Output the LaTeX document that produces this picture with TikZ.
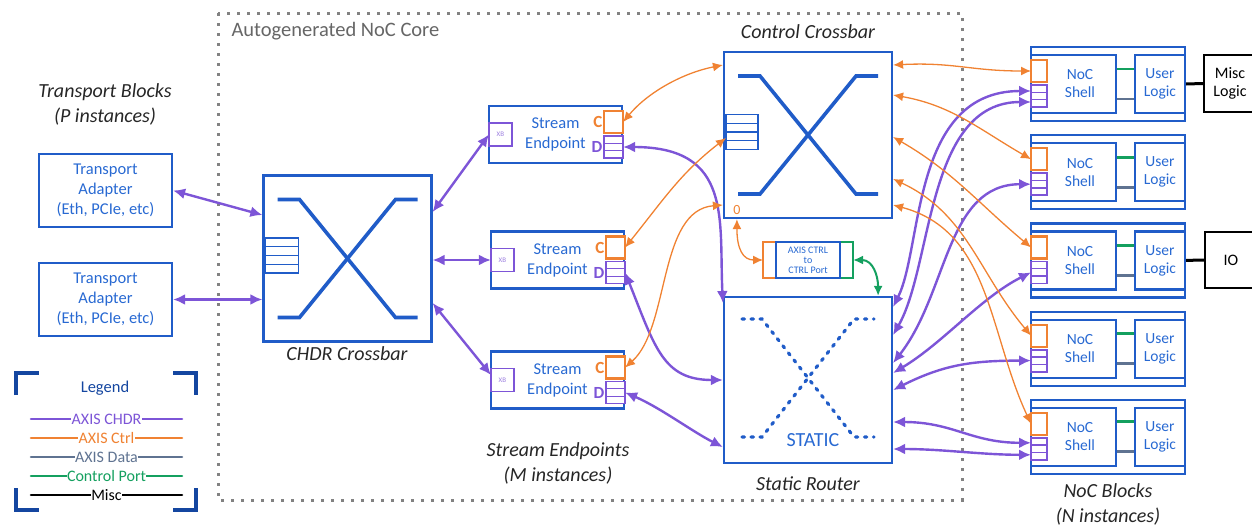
\documentclass[tikz,border=0pt]{standalone}
\usepackage{fontspec}
\setmainfont{Carlito}
\usepackage{tikz}
\usetikzlibrary{arrows.meta,calc,positioning}

\definecolor{boxblue}{RGB}{32,92,200}
\definecolor{textblue}{RGB}{40,105,210}
\definecolor{chdrc}{RGB}{125,85,215}
\definecolor{ctrlc}{RGB}{240,130,50}
\definecolor{portc}{RGB}{20,160,95}
\definecolor{datac}{RGB}{95,115,145}
\definecolor{legc}{RGB}{20,70,160}
\definecolor{coregray}{RGB}{130,130,130}

\tikzset{
  blk/.style={draw=boxblue, line width=2.2pt, text=textblue, align=center, inner sep=0pt,
    font=\fontsize{16.5}{20}\selectfont},
  xbox/.style={draw=boxblue, line width=2.2pt, minimum width=168pt, minimum height=166pt, inner sep=0pt},
  xline/.style={draw=boxblue, line width=3.6pt},
  xdots/.style={draw=boxblue, line width=3.2pt, line cap=round, dash pattern=on 2.5pt off 6.5pt},
  rows/.style 2 args={path picture={\foreach \f in {#1}
      \draw[#2, line width=1.3pt] ($(path picture bounding box.north west)!\f!(path picture bounding box.south west)$)
        -- ($(path picture bounding box.north east)!\f!(path picture bounding box.south east)$);}},
  fifo/.style={draw=boxblue, line width=1.5pt, fill=white, minimum width=33pt, minimum height=35pt,
    inner sep=0pt, outer sep=0pt, rows={{0.25,0.5,0.75}{boxblue}}},
  cport/.style={draw=ctrlc, line width=2.2pt, fill=white, minimum width=19pt, minimum height=22pt,
    inner sep=0pt, outer sep=0pt},
  dport/.style={draw=chdrc, line width=1.8pt, fill=white, minimum width=19pt, minimum height=22pt,
    inner sep=0pt, outer sep=0pt, rows={{0.333,0.667}{chdrc}}},
  xbport/.style={draw=chdrc, line width=1.7pt, fill=white, minimum size=23pt, inner sep=0pt,
    outer sep=0pt, text=chdrc!75, font=\fontsize{7}{7}\selectfont},
  portletter/.style={inner sep=1.5pt, font=\fontsize{17}{17}\selectfont\bfseries},
  nocbox/.style={draw=boxblue, line width=2.2pt, minimum width=154pt, minimum height=74pt, inner sep=0pt},
  innerbox/.style={draw=boxblue, line width=2.2pt, minimum height=58pt, inner sep=0pt, text=textblue,
    align=center, font=\fontsize{15.5}{18}\selectfont},
  shelltext/.style={text=textblue, align=center, font=\fontsize{15.5}{18}\selectfont},
  miscbox/.style={draw=black, line width=2.2pt, minimum width=52pt, minimum height=57pt, inner sep=0pt,
    align=center, font=\fontsize{16}{18}\selectfont},
  convside/.style={line width=2.2pt, minimum width=13pt, minimum height=36pt, inner sep=0pt, outer sep=0pt},
  convbox/.style={draw=boxblue, line width=2.2pt, minimum width=64pt, minimum height=36pt, inner sep=0pt,
    outer sep=0pt, text=textblue, align=center, font=\fontsize{10}{10}\selectfont},
  title/.style={align=center, text=black!85, font=\fontsize{20}{25}\selectfont\itshape},
  chdrarrow/.style={draw=chdrc, line width=2.4pt, {Latex[length=12pt,width=11pt]}-{Latex[length=12pt,width=11pt]}},
  ctrlarrow/.style={draw=ctrlc, line width=1.3pt, {Latex[length=10pt,width=9pt]}-{Latex[length=10pt,width=9pt]}},
  portarrow/.style={draw=portc, line width=2pt, {Latex[length=10pt,width=9pt]}-{Latex[length=10pt,width=9pt]}},
  miscline/.style={draw=black, line width=3pt},
  legcorner/.style={draw=legc, line width=3.2pt},
}

\begin{document}
\begin{tikzpicture}[x=1pt,y=1pt]
    \useasboundingbox (0,0) rectangle (1252,-525);

    \draw[coregray, line width=3pt, dash pattern=on 3pt off 7pt] (218,-13) rectangle (962,-500);
    \node[anchor=west, text=black!60, font=\fontsize{20.5}{22}\selectfont] (coretitle) at (228,-31) {Autogenerated NoC Core};

    % transport blocks
    \node[title] (tptitle) at (105,-104.5) {Transport Blocks\\(P instances)};
    \node[blk, minimum width=133pt, minimum height=73pt] (ta1) at (105.5,-190.5) {Transport\\Adapter\\(Eth, PCIe, etc)};
    \node[blk, minimum width=133pt, minimum height=73pt] (ta2) at (105.5,-299.5) {Transport\\Adapter\\(Eth, PCIe, etc)};

    % crossbars and router
    \node[xbox] (chdr) at (347.5,-258.5) {};
    \node[xbox] (ctrlxb) at (808,-135) {};
    \node[xbox] (static) at (808,-380) {};
    \foreach \n in {chdr,ctrlxb} {
        \draw[xline] ([shift={(-70,59)}]\n.center) -- ++(22,0) -- ++(96,-118) -- ++(22,0);
        \draw[xline] ([shift={(-70,-59)}]\n.center) -- ++(22,0) -- ++(96,118) -- ++(22,0);
    }
    \draw[xdots] ([shift={(-66,61)}]static.center) -- ++(20,0) -- ++(92,-118) -- ++(20,0);
    \draw[xdots] ([shift={(-66,-57)}]static.center) -- ++(20,0) -- ++(92,118) -- ++(20,0);
    \node[fifo, anchor=west] (chdrq) at ($(chdr.west)+(3,3)$) {};
    \node[fifo, anchor=west, minimum width=32pt] (ctrlq) at ($(ctrlxb.west)+(3,3)$) {};
    \node[text=ctrlc, font=\fontsize{14}{14}\selectfont] (zero) at ($(ctrlxb.south west)+(14,9)$) {0};
    \node[text=textblue, font=\fontsize{20}{20}\selectfont] (statictx) at ($(static.center)+(5,-60)$) {STATIC};

    \node[title] (chdrtitle) at (347,-354) {CHDR Crossbar};
    \node[title] (ctrltitle) at (808,-32) {Control Crossbar};
    \node[title] (statictitle) at (808,-484) {Static Router};

    % stream endpoints
    \foreach \i/\x/\y in {1/555.5/134.5, 2/557.5/260, 3/557.5/380} {
        \node[blk, minimum width=133pt, minimum height=57pt] (se\i) at (\x,-\y) {Stream\\Endpoint};
        \node[xbport, anchor=west] (xb\i) at ($(se\i.west)+(1,0)$) {XB};
        \node[cport, anchor=east] (sec\i) at ($(se\i.east)+(0,12.5)$) {};
        \node[dport, anchor=east] (sed\i) at ($(se\i.east)+(0,-12.5)$) {};
        \node[portletter, text=ctrlc, anchor=east] (secl\i) at (sec\i.west) {C};
        \node[portletter, text=chdrc, anchor=east] (sedl\i) at (sed\i.west) {D};
    }
    \node[title] (setitle) at (558,-463.5) {Stream Endpoints\\(M instances)};

    % ctrl to ctrl port
    \node[convside, draw=ctrlc] (convin) at (769.5,-260) {};
    \node[convside, draw=portc] (convout) at (846.5,-260) {};
    \node[convbox, right=0pt of convin] (conv) {AXIS CTRL\\to\\CTRL Port};

    % noc blocks
    \foreach \i in {1,...,5} {
        \pgfmathsetmacro\yc{-84-88.2*(\i-1)}
        \node[nocbox] (noc\i) at (1108,\yc) {};
        \node[innerbox, minimum width=85pt] (shell\i) at (1073.5,\yc) {};
        \node[innerbox, minimum width=50pt] (user\i) at (1160,\yc) {User\\Logic};
        \node[shelltext] (shelltx\i) at (1080,\yc) {NoC\\Shell};
        \node[cport, minimum width=16pt] (nocc\i) at (1039,\yc+13) {};
        \node[dport, minimum width=16pt] (nocd\i) at (1039,\yc-12) {};
        \draw[portc, line width=2.8pt] ($(shell\i.east)+(0,15)$) -- ($(user\i.west)+(0,15)$);
        \draw[datac, line width=2.8pt] ($(shell\i.east)+(0,-15)$) -- ($(user\i.west)+(0,-15)$);
    }
    \node[title] (noctitle) at (1108,-504) {NoC Blocks\\(N instances)};
    \node[miscbox] (misc) at (1230,-83.5) {Misc\\Logic};
    \node[miscbox, minimum height=56pt] (io) at (1231,-260) {IO};
    \draw[miscline] (user1.east) -- (misc.west);
    \draw[miscline] (user3.east) -- (io.west);

    % chdr links
    \draw[chdrarrow] (ta1.east) -- ($(chdr.west)+(0,43.5)$);
    \draw[chdrarrow] (ta2.east) -- (chdr.west |- ta2.east);
    \draw[chdrarrow] ($(chdr.east)+(0,46.5)$) -- (xb1.west);
    \draw[chdrarrow] (chdr.east |- xb2.west) -- (xb2.west);
    \draw[chdrarrow] ($(chdr.east)+(0,-44.5)$) -- ($(xb3.west)+(0,5)$);
    \draw[chdrarrow] (sed1.east) .. controls +(110,0) and +(-4,83) .. ($(static.west)+(0,77)$);
    \draw[chdrarrow] (sed2.east) .. controls +(30,-75) and +(-60,0) .. (static.west);
    \draw[chdrarrow] (sed3.east) .. controls +(35,-15) and +(-30,15) .. ($(static.west)+(0,-67)$);
    \draw[chdrarrow] ($(static.east)+(0,73)$) .. controls +(30,60) and +(-120,0) .. ($(nocd1.west)+(0,5)$);
    \draw[chdrarrow] ($(static.east)+(0,45)$) .. controls +(40,70) and +(-105,0) .. ($(nocd1.west)+(0,-6)$);
    \draw[chdrarrow] ($(static.east)+(0,17)$) .. controls +(55,70) and +(-85,0) .. (nocd2.west);
    \draw[chdrarrow] ($(static.east)+(0,7)$) .. controls +(50,30) and +(-50,-25) .. (nocd3.west);
    \draw[chdrarrow] ($(static.east)+(0,-10)$) .. controls +(50,25) and +(-60,0) .. (nocd4.west);
    \draw[chdrarrow] ($(static.east)+(0,-42)$) .. controls +(60,0) and +(-60,0) .. ($(nocd5.west)+(0,6)$);
    \draw[chdrarrow] ($(static.east)+(0,-69)$) .. controls +(50,0) and +(-50,0) .. ($(nocd5.west)+(0,-6)$);

    % ctrl links
    \draw[ctrlarrow] (sec1.east) .. controls +(25,30) and +(-40,-8) .. ($(ctrlxb.west)+(0,70)$);
    \draw[ctrlarrow] (sec2.east) .. controls +(40,50) and +(-45,-35) .. ($(ctrlq.west)+(0,-6)$);
    \draw[ctrlarrow] (sec3.east) .. controls +(45,40) and +(-65,-5) .. ($(ctrlxb.west)+(0,-70)$);
    \draw[ctrlarrow] ($(ctrlxb.south west)+(14,0)$) .. controls +(0,-30) and +(-20,0) .. (convin.west);
    \draw[ctrlarrow] ($(ctrlxb.east)+(0,70)$) .. controls +(60,3) and +(-60,0) .. (nocc1.west);
    \draw[ctrlarrow] ($(ctrlxb.east)+(0,40)$) to[out=-10,in=150] (nocc2.west);
    \draw[ctrlarrow] ($(ctrlxb.east)+(0,-2)$) to[out=-30,in=140] (nocc3.west);
    \draw[ctrlarrow] ($(ctrlxb.east)+(0,-44)$) to[out=-25,in=130] (nocc4.west);
    \draw[ctrlarrow] ($(ctrlxb.east)+(0,-70)$) to[out=-15,in=115] (nocc5.west);
    \draw[portarrow] (convout.east) .. controls +(20,0) and +(0,20) .. ($(static.north east)+(-15,0)$);

    % legend
    \node[inner sep=0pt, outer sep=0pt, minimum width=180pt, minimum height=137pt] (legend) at (106,-441.5) {};
    \draw[legcorner] ($(legend.north west)+(0,-22)$) -- (legend.north west) -- ++(23,0);
    \draw[legcorner] ($(legend.north east)+(-23,0)$) -- (legend.north east) -- ++(0,-22);
    \draw[legcorner] ($(legend.south west)+(0,22)$) -- (legend.south west) -- ++(23,0);
    \draw[legcorner] ($(legend.south east)+(-23,0)$) -- (legend.south east) -- ++(0,22);
    \node[text=legc, font=\fontsize{16.5}{16.5}\selectfont] (legtitle) at (105,-388) {Legend};
    \foreach \c/\t [count=\k] in {chdrc/AXIS CHDR, ctrlc/AXIS Ctrl, datac/AXIS Data, portc/Control Port, black/Misc}
        \draw[\c, line width=2.6pt, line cap=round] (31,-400-19*\k) -- (182,-400-19*\k)
            node[midway, fill=white, inner sep=0.5pt, text=\c, font=\fontsize{16}{16}\selectfont] (leg\k) {\t};
\end{tikzpicture}
\end{document}
